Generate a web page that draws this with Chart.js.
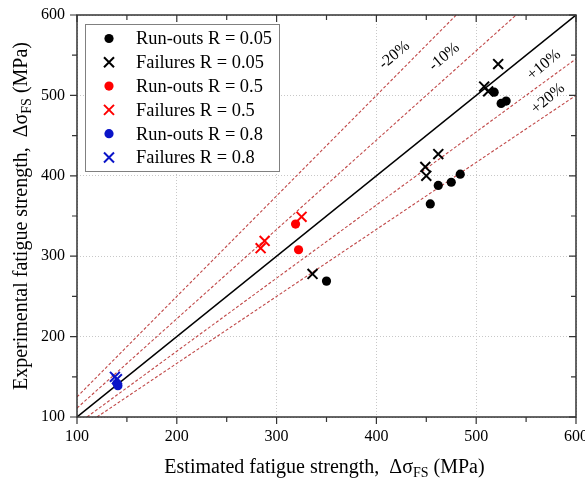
<!DOCTYPE html>
<html>
<head>
<meta charset="utf-8">
<script src="https://cdn.jsdelivr.net/npm/chart.js@4.4.1/dist/chart.umd.min.js"></script>
<style>
  html, body { margin: 0; padding: 0; background: #fff; }
  #wrap { width: 585px; height: 487px; position: relative; }
</style>
</head>
<body>
<div id="wrap"><canvas id="chart"></canvas></div>
<script>
// measured points, (estimated, experimental) in MPa
const runouts005 = [{x:518,y:504},{x:525,y:490},{x:530,y:493},{x:484,y:402},{x:475,y:392},{x:462,y:388},{x:454,y:365},{x:350,y:269}];
const failures005 = [{x:522,y:539},{x:508,y:511},{x:512,y:505},{x:462,y:427},{x:449,y:411},{x:450,y:400},{x:336,y:278}];
const runouts05 = [{x:319,y:340},{x:322,y:308}];
const failures05 = [{x:325,y:349},{x:288,y:319},{x:284,y:310}];
const runouts08 = [{x:140,y:142},{x:141,y:139}];
const failures08 = [{x:138,y:150},{x:140,y:147}];

// unity line and scatter bands (end points)
const unityLine = [{x:100,y:100},{x:600,y:600}];
const minus20 = [{x:100,y:125},{x:480,y:600}];
const minus10 = [{x:100,y:111.1},{x:540,y:600}];
const plus10 = [{x:110,y:100},{x:600,y:545.5}];
const plus20 = [{x:120,y:100},{x:600,y:500}];

const bandLabels = ['-20%', '-10%', '+10%', '+20%'];
const bandLabelX = [418, 468, 568, 572];
const bandLabelY = [550, 548, 538, 496];

const axisMin = 100;
const axisMax = 600;

const SERIF = '"Liberation Serif", "DejaVu Serif", serif';
const BLUE = '#0a14c8';
const BAND = '#c04848';

const pointSet = (label, data, color, style) => ({
  label: label,
  data: data,
  pointStyle: style,
  pointRadius: style === 'circle' ? 4.6 : 7,
  pointBorderWidth: style === 'circle' ? 0 : 2,
  backgroundColor: color,
  borderColor: color,
  showLine: false,
});

const lineSet = (data, color, width, dash) => ({
  data: data,
  showLine: true,
  pointRadius: 0,
  borderColor: color,
  borderWidth: width,
  borderDash: dash,
  fill: false,
});

const datasets = [
  pointSet('Run-outs R = 0.05', runouts005, '#000', 'circle'),
  pointSet('Failures R = 0.05', failures005, '#000', 'crossRot'),
  pointSet('Run-outs R = 0.5', runouts05, '#ff0000', 'circle'),
  pointSet('Failures R = 0.5', failures05, '#ff0000', 'crossRot'),
  pointSet('Run-outs R = 0.8', runouts08, BLUE, 'circle'),
  pointSet('Failures R = 0.8', failures08, BLUE, 'crossRot'),
  lineSet(unityLine, '#000', 1.5, []),
  lineSet(minus20, BAND, 1.1, [3, 2]),
  lineSet(minus10, BAND, 1.1, [3, 2]),
  lineSet(plus10, BAND, 1.1, [3, 2]),
  lineSet(plus20, BAND, 1.1, [3, 2]),
];

// text with a subscript part, drawn centred on (0,0) of the current transform
function drawSubText(ctx, parts, size) {
  const subSize = Math.round(size * 0.68);
  let total = 0;
  parts.forEach(p => {
    ctx.font = (p.sub ? subSize : size) + 'px ' + SERIF;
    p.w = ctx.measureText(p.text).width;
    total += p.w;
  });
  let x = -total / 2;
  ctx.textBaseline = 'middle';
  ctx.textAlign = 'left';
  parts.forEach(p => {
    ctx.font = (p.sub ? subSize : size) + 'px ' + SERIF;
    ctx.fillText(p.text, x, p.sub ? 5 : 0);
    x += p.w;
  });
}

const decorations = {
  id: 'decorations',
  afterDatasetsDraw(chart) {
    const {ctx, scales: {x, y}} = chart;
    ctx.save();
    ctx.fillStyle = '#000';
    ctx.font = '16px ' + SERIF;
    ctx.textAlign = 'center';
    ctx.textBaseline = 'middle';
    for (let i = 0; i < bandLabels.length; i++) {
      ctx.save();
      ctx.translate(x.getPixelForValue(bandLabelX[i]), y.getPixelForValue(bandLabelY[i]));
      ctx.rotate(-40 * Math.PI / 180);
      ctx.fillText(bandLabels[i], 0, 0);
      ctx.restore();
    }
    ctx.restore();
  },
  afterDraw(chart) {
    const {ctx, chartArea: a, scales: {x, y}} = chart;
    ctx.save();
    // frame
    ctx.strokeStyle = '#333';
    ctx.lineWidth = 1.5;
    ctx.strokeRect(a.left, a.top, a.right - a.left, a.bottom - a.top);
    // ticks: out on bottom/left, in on top/right
    ctx.lineWidth = 1.2;
    ctx.beginPath();
    for (let v = axisMin; v <= axisMax; v += 50) {
      const len = v % 100 === 0 ? 7 : 5;
      const px = x.getPixelForValue(v);
      const py = y.getPixelForValue(v);
      ctx.moveTo(px, a.bottom); ctx.lineTo(px, a.bottom + len);
      ctx.moveTo(px, a.top); ctx.lineTo(px, a.top + len);
      ctx.moveTo(a.left, py); ctx.lineTo(a.left - len, py);
      ctx.moveTo(a.right, py); ctx.lineTo(a.right - len, py);
    }
    ctx.stroke();

    // legend
    const bx = a.left + 8, by = a.top + 9, bw = 194, bh = 147;
    ctx.fillStyle = '#fff';
    ctx.fillRect(bx, by, bw, bh);
    ctx.strokeStyle = '#808080';
    ctx.lineWidth = 1;
    ctx.strokeRect(bx + 0.5, by + 0.5, bw, bh);
    ctx.font = '18.4px ' + SERIF;
    ctx.textBaseline = 'middle';
    ctx.textAlign = 'left';
    for (let i = 0; i < 6; i++) {
      const ds = chart.data.datasets[i];
      const cy = by + 14.5 + i * 23.8;
      const cx = bx + 24;
      ctx.fillStyle = ds.backgroundColor;
      ctx.strokeStyle = ds.borderColor;
      if (ds.pointStyle === 'circle') {
        ctx.beginPath();
        ctx.arc(cx, cy, 4.6, 0, Math.PI * 2);
        ctx.fill();
      } else {
        ctx.lineWidth = 2;
        ctx.beginPath();
        ctx.moveTo(cx - 5, cy - 5); ctx.lineTo(cx + 5, cy + 5);
        ctx.moveTo(cx - 5, cy + 5); ctx.lineTo(cx + 5, cy - 5);
        ctx.stroke();
      }
      ctx.fillStyle = '#000';
      ctx.fillText(ds.label, bx + 51, cy + 1);
    }

    // axis titles
    ctx.fillStyle = '#000';
    ctx.save();
    ctx.translate((a.left + a.right) / 2 - 2, a.bottom + 51);
    drawSubText(ctx, [
      {text: 'Estimated fatigue strength,  \u0394\u03c3'},
      {text: 'FS', sub: true},
      {text: ' (MPa)'},
    ], 20);
    ctx.restore();
    ctx.save();
    ctx.translate(22, (a.top + a.bottom) / 2);
    ctx.rotate(-Math.PI / 2);
    drawSubText(ctx, [
      {text: 'Experimental fatigue strength,  \u0394\u03c3'},
      {text: 'FS', sub: true},
      {text: ' (MPa)'},
    ], 20);
    ctx.restore();
    ctx.restore();
  }
};

const tickFont = {family: SERIF, size: 16};

new Chart(document.getElementById('chart'), {
  type: 'scatter',
  data: {datasets: datasets},
  options: {
    responsive: true,
    maintainAspectRatio: false,
    animation: false,
    layout: {padding: {top: 15, right: 9, left: 0, bottom: 0}},
    plugins: {
      legend: {display: false},
      tooltip: {enabled: false},
    },
    scales: {
      x: {
        type: 'linear',
        min: axisMin,
        max: axisMax,
        ticks: {stepSize: 100, font: tickFont, color: '#000', padding: 10, maxRotation: 0},
        grid: {color: '#c8c8c8', lineWidth: 1, drawTicks: false},
        border: {display: false, dash: [1, 2]},
        afterFit(s) { s.height = 70; s.paddingLeft = 0; s.paddingRight = 0; },
      },
      y: {
        type: 'linear',
        min: axisMin,
        max: axisMax,
        ticks: {stepSize: 100, font: tickFont, color: '#000', padding: 12},
        grid: {color: '#c8c8c8', lineWidth: 1, drawTicks: false},
        border: {display: false, dash: [1, 2]},
        afterFit(s) { s.width = 77; s.paddingTop = 0; s.paddingBottom = 0; },
      },
    },
  },
  plugins: [decorations],
});
</script>
</body>
</html>
